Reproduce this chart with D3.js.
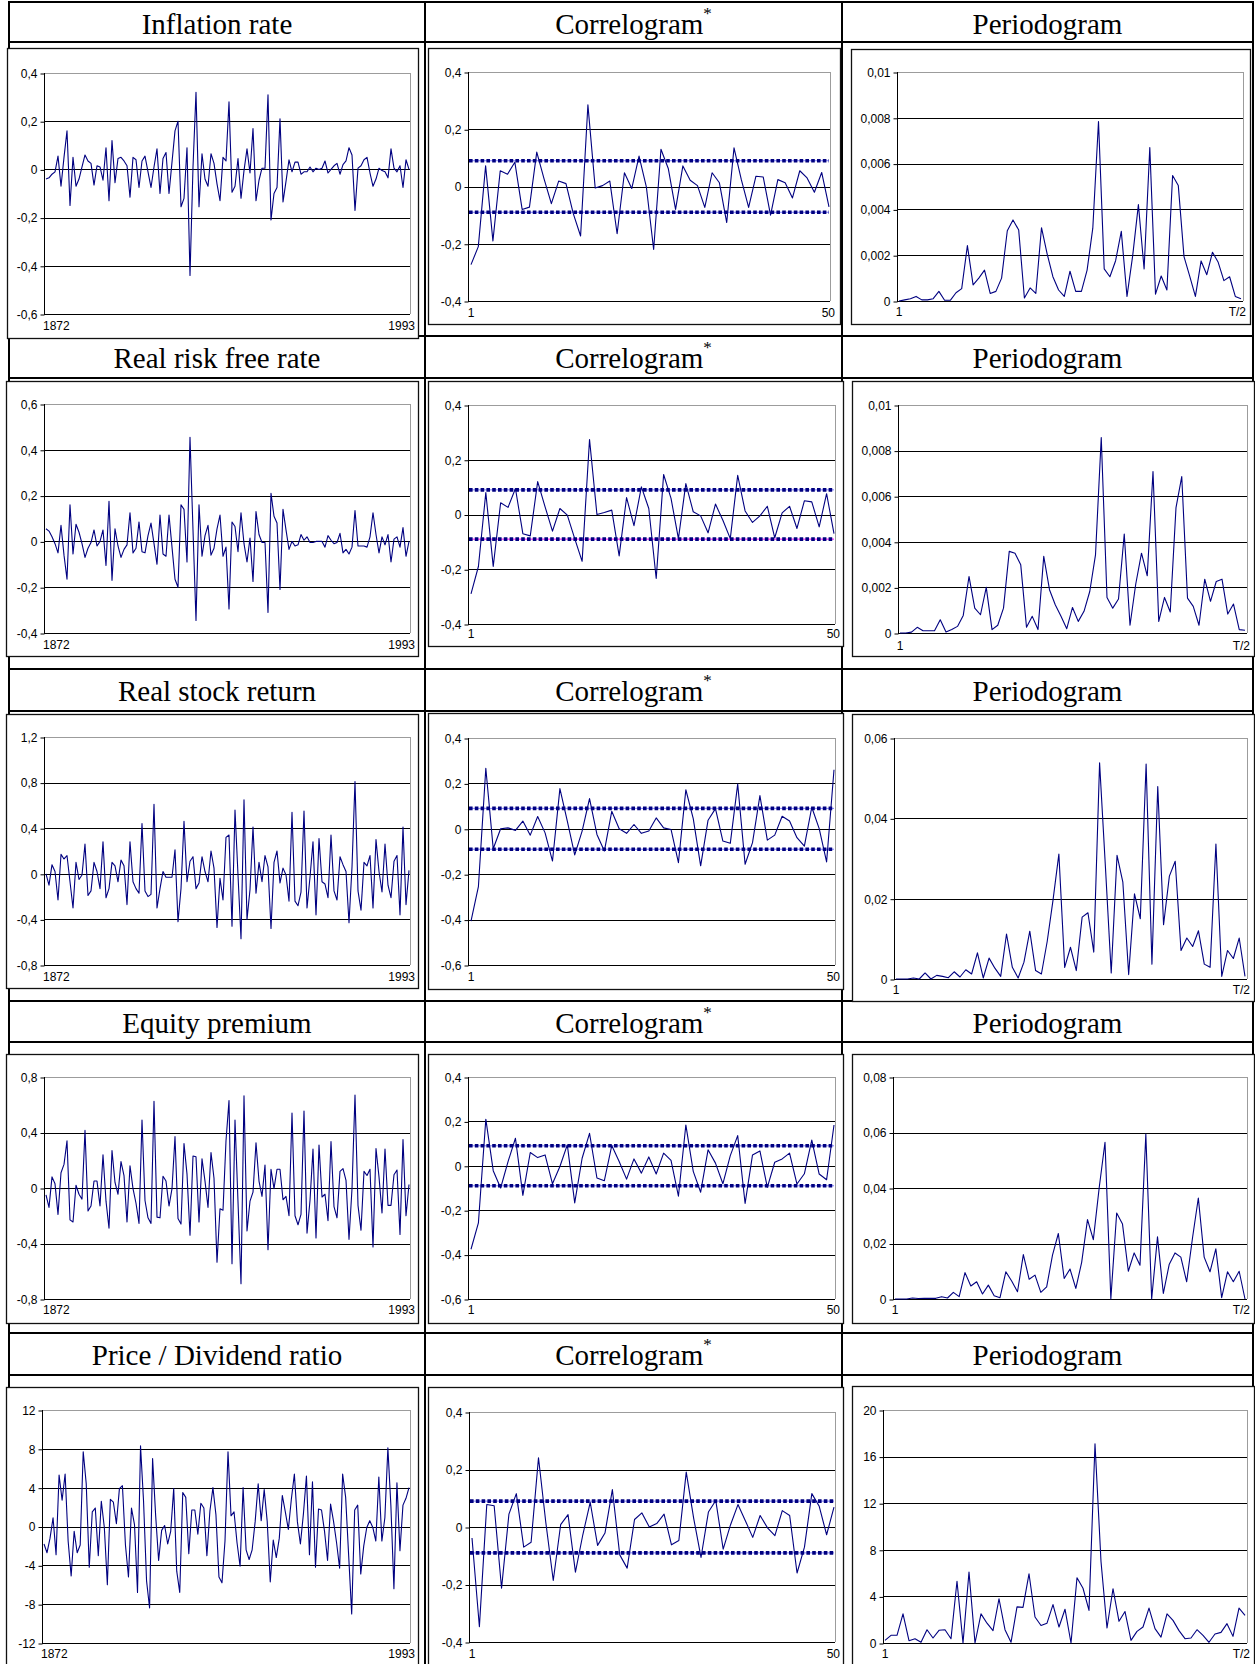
<!DOCTYPE html>
<html>
<head>
<meta charset="utf-8">
<script src="https://cdn.jsdelivr.net/npm/d3@7"></script>
<style>
  body { margin: 0; background: #fff; }
  svg { display: block; }
</style>
</head>
<body>
<svg id="chart" width="1255" height="1664"></svg>
<script>
// ---------- data ----------
const years = d3.range(1872, 1994); // 1872 .. 1993

const seriesTitles = ["Inflation rate", "Real risk free rate", "Real stock return", "Equity premium", "Price / Dividend ratio"];
const columnTitles = ["Correlogram", "Periodogram"];

const inflationRate = [
  -0.04, -0.035, -0.02, -0.01, 0.055, -0.07, 0.05, 0.16, -0.15, 0.05,
  -0.07, -0.04, 0.01, 0.06, 0.035, 0.025, -0.065, 0.015, 0.01, -0.045,
  0.09, -0.13, 0.12, -0.055, 0.045, 0.05, 0.035, 0.015, -0.115, 0.05,
  0.04, -0.075, 0.035, 0.055, -0.01, -0.075, 0.01, 0.085, -0.1, 0.045,
  0.07, -0.1, 0.03, 0.16, 0.2, -0.155, -0.12, 0.09, -0.44, 0.01,
  0.32, -0.155, 0.065, -0.04, -0.07, 0.065, 0.025, -0.06, -0.13, 0.05,
  0.035, 0.28, -0.095, -0.07, 0.045, -0.12, -0.005, 0.085, -0.015, 0.17,
  -0.13, -0.045, 0.005, 0.005, 0.31, -0.21, -0.1, -0.075, 0.21, -0.135,
  -0.05, 0.04, -0.01, 0.03, 0.03, -0.02, -0.01, -0.01, 0.01, -0.01,
  0.005, 0.0, 0.005, 0.035, -0.015, 0.0, 0.015, 0.025, -0.02, 0.02,
  0.035, 0.09, 0.06, -0.17, 0.005, 0.015, 0.04, 0.05, -0.015, -0.07,
  -0.04, 0.005, -0.005, -0.01, -0.035, 0.085, 0.005, -0.01, 0.015, -0.075,
  0.04, 0.0
];

const realRiskFreeRate = [
  0.055, 0.045, 0.02, -0.01, -0.05, 0.07, -0.06, -0.165, 0.16, -0.055,
  0.075, 0.04, -0.01, -0.07, -0.03, -0.005, 0.05, -0.02, 0.0, 0.05,
  -0.105, 0.175, -0.17, 0.055, -0.02, -0.07, -0.035, -0.015, 0.125, -0.05,
  -0.03, 0.085, -0.045, -0.05, 0.025, 0.08, -0.01, -0.1, 0.115, -0.055,
  -0.065, 0.115, -0.025, -0.165, -0.2, 0.16, 0.14, -0.09, 0.455, 0.05,
  -0.345, 0.16, -0.065, 0.025, 0.07, -0.06, -0.03, 0.055, 0.115, -0.065,
  -0.025, -0.295, 0.085, 0.065, -0.045, 0.125, -0.01, -0.09, 0.015, -0.175,
  0.13, 0.03, -0.005, -0.005, -0.31, 0.21, 0.11, 0.08, -0.21, 0.14,
  0.05, -0.035, 0.0, -0.02, -0.015, 0.03, 0.005, 0.02, -0.005, -0.005,
  0.0, 0.0, 0.0, -0.025, 0.025, 0.005, -0.01, -0.005, 0.035, -0.05,
  -0.035, -0.055, -0.025, 0.135, -0.02, -0.02, -0.02, -0.025, 0.02, 0.125,
  0.03, -0.05, 0.02, -0.015, 0.03, -0.09, 0.01, 0.02, -0.025, 0.06,
  -0.065, 0.0
];

const realStockReturn = [
  0.0, -0.1, 0.08, 0.02, -0.23, 0.17, 0.13, 0.16, -0.07, -0.3,
  0.1, -0.05, -0.01, 0.26, -0.19, -0.15, 0.1, 0.02, -0.13, 0.28,
  -0.21, -0.13, 0.1, 0.07, -0.07, 0.12, 0.07, -0.27, 0.28, -0.07,
  -0.13, -0.17, 0.44, -0.15, -0.2, -0.18, 0.61, -0.3, -0.13, 0.02,
  -0.03, -0.03, -0.03, 0.21, -0.42, -0.13, 0.46, -0.07, 0.11, 0.15,
  -0.13, -0.08, 0.15, 0.02, -0.07, 0.2, 0.05, -0.47, -0.04, -0.23,
  0.32, 0.34, -0.46, 0.56, -0.01, -0.57, 0.65, -0.4, -0.14, 0.41,
  -0.17, 0.1, -0.07, 0.16, 0.06, -0.48, 0.1, 0.2, -0.08, 0.05,
  -0.01, -0.24, 0.54, -0.24, -0.28, -0.16, 0.55, -0.3, -0.03, 0.28,
  -0.36, 0.31, -0.07, -0.09, -0.21, 0.34, -0.15, -0.23, 0.15, 0.08,
  0.02, -0.43, 0.06, 0.81, -0.15, -0.32, 0.1, 0.07, 0.16, -0.3,
  0.3, 0.02, -0.16, 0.26, -0.1, -0.21, 0.11, 0.16, -0.36, 0.41,
  -0.27, 0.03
];

const equityPremium = [
  -0.05, -0.14, 0.08, 0.03, -0.19, 0.11, 0.17, 0.34, -0.23, -0.245,
  0.02, -0.045, -0.08, 0.415, -0.165, -0.13, 0.05, 0.05, -0.13, 0.24,
  -0.095, -0.29, 0.27, 0.04, -0.045, 0.19, 0.09, -0.245, 0.16, -0.005,
  -0.11, -0.255, 0.49, -0.09, -0.215, -0.255, 0.625, -0.21, -0.215, 0.085,
  0.05, -0.13, -0.005, 0.37, -0.22, -0.26, 0.32, 0.1, -0.34, 0.23,
  0.225, -0.245, 0.21, 0.05, -0.14, 0.255, 0.07, -0.535, -0.15, -0.16,
  0.34, 0.63, -0.545, 0.49, -0.1, -0.69, 0.665, -0.31, -0.095, -0.03,
  0.325, 0.05, -0.06, 0.165, -0.445, 0.135, -0.005, 0.135, 0.135, -0.085,
  -0.06, -0.2, 0.54, -0.2, -0.265, -0.19, 0.555, -0.325, -0.09, 0.28,
  -0.36, 0.31, -0.065, -0.045, -0.235, 0.335, -0.135, -0.215, 0.12, 0.14,
  0.055, -0.37, -0.005, 0.67, -0.125, -0.305, 0.12, 0.09, 0.135, -0.425,
  0.285, 0.08, -0.18, 0.28, -0.125, -0.125, 0.095, 0.13, -0.335, 0.35,
  -0.2, 0.025
];

const priceDividendRatio = [
  -1.8, -2.7, -1.2, 0.9, -2.9, 5.3, 2.7, 5.4, -1.5, -5.1,
  -0.5, -2.7, -1.9, 7.7, 4.4, -4.2, 1.5, 1.9, -3.0, 2.6,
  -0.1, -6.0, 2.8, 2.5, 0.3, 3.9, 4.2, -1.9, -5.2, 1.9,
  0.2, -6.8, 8.3, 2.6, -5.6, -8.4, 7.0, 1.2, -3.5, -0.4,
  0.1, -1.8, -0.5, 3.9, -4.6, -6.8, 3.5, 3.0, -2.8, 1.7,
  1.7, -0.8, 2.4, 1.9, -3.0, 1.6, 4.0, 1.2, -5.2, -5.8,
  -1.5, 7.7, 1.1, 1.5, -1.7, -4.1, 4.0, -2.4, -3.4, -2.4,
  0.5, 4.4, 0.6, 3.8, 0.5, -5.7, -1.4, -3.2, -1.2, 3.2,
  1.5, -0.3, 2.8, 5.4, 0.5, -1.8, 1.3, 5.2, -2.9, 4.6,
  -4.2, 1.8, 1.7, -0.5, -3.5, 2.3, 0.5, -1.7, -4.3, 5.4,
  3.0, -3.0, -9.0, 1.7, 2.2, -4.9, -2.0, -0.1, 0.6, -0.1,
  -1.5, 5.1, -1.5, 0.9, 8.1, 2.1, -6.4, 4.5, -2.5, 2.2,
  2.9, 4.0
];

// autocorrelations, lags 1..50
const lags = d3.range(1, 51);
const acfInflation = [
  -0.273, -0.21, 0.072, -0.19, 0.055, 0.043, 0.085, -0.08, -0.072, 0.12,
  0.027, -0.06, 0.019, 0.01, -0.095, -0.173, 0.285, -0.005, 0.003, 0.019,
  -0.165, 0.048, -0.007, 0.106, -0.001, -0.22, 0.13, 0.063, -0.08, 0.072,
  0.022, 0.003, -0.073, 0.048, 0.013, -0.126, 0.135, 0.024, -0.073, 0.036,
  0.033, -0.1, 0.024, 0.013, -0.04, 0.055, 0.03, -0.02, 0.049, -0.071
];
const acfRiskFree = [
  -0.29, -0.19, 0.08, -0.19, 0.043, 0.026, 0.095, -0.07, -0.078, 0.12,
  0.028, -0.061, 0.022, -0.002, -0.088, -0.171, 0.274, 0.0, 0.007, 0.016,
  -0.151, 0.062, -0.041, 0.101, 0.022, -0.234, 0.146, 0.059, -0.088, 0.113,
  0.01, -0.005, -0.067, 0.038, -0.021, -0.088, 0.143, 0.013, -0.029, -0.005,
  0.03, -0.085, 0.006, 0.03, -0.051, 0.05, 0.046, -0.045, 0.076, -0.07
];
const acfStockReturn = [
  -0.407, -0.255, 0.267, -0.088, 0.0, 0.004, -0.007, 0.034, -0.028, 0.054,
  -0.018, -0.142, 0.177, 0.034, -0.115, -0.01, 0.133, -0.025, -0.098, 0.077,
  0.0, -0.02, 0.019, -0.02, -0.01, 0.048, 0.004, -0.003, -0.149, 0.172,
  0.045, -0.163, 0.038, 0.089, -0.054, -0.064, 0.197, -0.156, -0.061, 0.146,
  -0.05, -0.028, 0.055, 0.034, -0.039, -0.076, 0.095, 0.001, -0.146, 0.26
];
const acfEquityPremium = [
  -0.376, -0.257, 0.21, -0.022, -0.1, 0.019, 0.124, -0.133, 0.06, 0.037,
  0.049, -0.081, -0.003, 0.094, -0.167, 0.034, 0.146, -0.055, -0.067, 0.091,
  0.019, -0.06, 0.031, -0.033, 0.04, -0.037, 0.057, 0.024, -0.137, 0.184,
  -0.025, -0.119, 0.072, 0.012, -0.081, 0.046, 0.136, -0.17, 0.049, 0.067,
  -0.097, 0.016, 0.031, 0.057, -0.082, -0.036, 0.116, -0.037, -0.063, 0.184
];
const acfPriceDividend = [
  -0.038, -0.347, 0.078, 0.074, -0.213, 0.045, 0.116, -0.07, -0.053, 0.241,
  0.014, -0.186, 0.008, 0.043, -0.157, -0.027, 0.086, -0.064, -0.021, 0.13,
  -0.097, -0.143, 0.026, 0.049, 0.0, 0.012, 0.045, -0.062, -0.047, 0.191,
  0.031, -0.106, 0.052, 0.092, -0.077, 0.008, 0.078, 0.022, -0.036, 0.04,
  -0.003, -0.03, 0.057, 0.04, -0.16, -0.07, 0.116, 0.072, -0.027, 0.069
];
const acfBand = 0.09; // significance band drawn at +/- this level

// periodogram ordinates, frequencies 1 .. T/2
const freqs = d3.range(0, 61);
const pgInflation = [
  0.0, 0.00005, 0.0001, 0.0002, 0.00005, 0.00005, 0.0001, 0.00042, 0.00003, 0.00003,
  0.00036, 0.00054, 0.00242, 0.0007, 0.001, 0.00135, 0.00033, 0.00042, 0.001, 0.00307,
  0.00354, 0.0031, 0.00013, 0.00057, 0.00033, 0.0032, 0.00205, 0.00106, 0.00048, 0.0002,
  0.0013, 0.00042, 0.00042, 0.00135, 0.00318, 0.00784, 0.0014, 0.00106, 0.00176, 0.00304,
  0.0002, 0.00198, 0.00421, 0.0014, 0.0067, 0.0003, 0.00109, 0.00048, 0.00548, 0.00504,
  0.00194, 0.00109, 0.0002, 0.00175, 0.00115, 0.00213, 0.00169, 0.00089, 0.00106, 0.0002,
  0.0001
];
const pgRiskFree = [
  0.0, 0.0, 0.00004, 0.00025, 0.0001, 0.0001, 0.0001, 0.00058, 0.00004, 0.00015,
  0.00029, 0.00077, 0.00248, 0.00109, 0.0008, 0.002, 0.00015, 0.00034, 0.00109, 0.00358,
  0.0035, 0.00299, 0.00025, 0.00073, 0.00015, 0.00336, 0.0019, 0.00124, 0.00073, 0.00019,
  0.00112, 0.00051, 0.00095, 0.00182, 0.00343, 0.00857, 0.00156, 0.00109, 0.00149, 0.00434,
  0.00034, 0.00215, 0.0035, 0.00251, 0.00708, 0.00051, 0.00156, 0.00092, 0.0055, 0.00686,
  0.00153, 0.00117, 0.00034, 0.00236, 0.00139, 0.00226, 0.00236, 0.00083, 0.00127, 0.00015,
  0.00012
];
const pgStockReturn = [
  0.0, 0.0, 0.0, 0.00025, 0.0, 0.0015, 0.0, 0.0009, 0.00066, 0.00033,
  0.0018, 0.0005, 0.0023, 0.00125, 0.0065, 0.00025, 0.0052, 0.0027, 0.00066, 0.0112,
  0.0029, 0.00025, 0.0042, 0.0119, 0.0021, 0.00125, 0.0094, 0.0197, 0.0311, 0.0029,
  0.0079, 0.0021, 0.0154, 0.0165, 0.0067, 0.0538, 0.028, 0.0015, 0.0308, 0.0241,
  0.0011, 0.0212, 0.015, 0.0535, 0.0037, 0.0479, 0.0135, 0.0256, 0.0293, 0.0071,
  0.0102, 0.0081, 0.012, 0.0037, 0.0029, 0.0336, 0.00066, 0.0071, 0.0051, 0.0102,
  0.00066
];
const pgEquityPremium = [
  0.0, 0.0, 0.0, 0.00036, 0.0002, 0.00024, 0.00024, 0.00024, 0.00084, 0.00036,
  0.0024, 0.00084, 0.0095, 0.0047, 0.0062, 0.0018, 0.005, 0.0012, 0.00048, 0.0098,
  0.0065, 0.0026, 0.016, 0.0071, 0.0086, 0.0024, 0.0044, 0.0158, 0.0236, 0.0074,
  0.0108, 0.0038, 0.0132, 0.0286, 0.0214, 0.04, 0.0565, 0.0, 0.031, 0.027,
  0.01, 0.0166, 0.0122, 0.0594, 0.0, 0.0224, 0.002, 0.0124, 0.0166, 0.0151,
  0.0062, 0.022, 0.0364, 0.0151, 0.0098, 0.0181, 0.0005, 0.0098, 0.0062, 0.01,
  0.0
];
const pgPriceDividend = [
  0.23, 0.66, 0.66, 2.5, 0.2, 0.37, 0.06, 1.14, 0.43, 1.09,
  1.14, 0.37, 5.3, 0.0, 6.1, 0.0, 2.5, 1.7, 1.06, 3.8,
  1.14, 0.06, 3.1, 3.06, 5.94, 2.23, 1.5, 1.7, 3.3, 1.37,
  2.9, 0.0, 5.6, 4.7, 2.8, 17.1, 7.0, 1.29, 4.66, 1.86,
  2.7, 0.23, 1.0, 1.37, 3.0, 1.23, 0.51, 2.5, 1.94, 1.06,
  0.37, 0.43, 1.14, 0.66, 0.06, 0.77, 0.91, 1.66, 0.57, 3.0,
  2.37
];

// value-axis tick labels for each panel
const tsTicks = [
  [-0.6, -0.4, -0.2, 0, 0.2, 0.4],
  [-0.4, -0.2, 0, 0.2, 0.4, 0.6],
  [-0.8, -0.4, 0, 0.4, 0.8, 1.2],
  [-0.8, -0.4, 0, 0.4, 0.8],
  [-12, -8, -4, 0, 4, 8, 12]
];
const acfTicks = [
  [-0.4, -0.2, 0, 0.2, 0.4],
  [-0.4, -0.2, 0, 0.2, 0.4],
  [-0.6, -0.4, -0.2, 0, 0.2, 0.4],
  [-0.6, -0.4, -0.2, 0, 0.2, 0.4],
  [-0.4, -0.2, 0, 0.2, 0.4]
];
const pgTicks = [
  [0, 0.002, 0.004, 0.006, 0.008, 0.01],
  [0, 0.002, 0.004, 0.006, 0.008, 0.01],
  [0, 0.02, 0.04, 0.06],
  [0, 0.02, 0.04, 0.06, 0.08],
  [0, 4, 8, 12, 16, 20]
];
const tsEndLabels = ["1872", "1993"];
const acfEndLabels = ["1", "50"];
const pgEndLabels = ["1", "T/2"];

const tsSeries = [inflationRate, realRiskFreeRate, realStockReturn, equityPremium, priceDividendRatio];
const acfSeries = [acfInflation, acfRiskFree, acfStockReturn, acfEquityPremium, acfPriceDividend];
const pgSeries = [pgInflation, pgRiskFree, pgStockReturn, pgEquityPremium, pgPriceDividend];

// ---------- layout ----------
const tableCols = [9, 425, 842, 1253];
const headerTops = [2, 336, 669, 1001, 1333];
const headerBottoms = [42, 378, 711, 1042, 1375];

const layout = [
  { ts:  { frame: [7, 48, 418, 338],   plot: [44, 73, 410, 314],   lab: 330 },
    acf: { frame: [428, 48, 840, 324], plot: [468, 72, 830, 301],  lab: 317 },
    pg:  { frame: [851, 49, 1250, 324], plot: [897, 72, 1243, 301], lab: 316 } },
  { ts:  { frame: [6, 381, 418, 656],  plot: [44, 404, 410, 633],  lab: 649 },
    acf: { frame: [428, 381, 843, 646], plot: [468, 405, 835, 624], lab: 638 },
    pg:  { frame: [852, 381, 1254, 656], plot: [898, 405, 1247, 633], lab: 650 } },
  { ts:  { frame: [6, 714, 418, 988],  plot: [44, 737, 410, 965],  lab: 981 },
    acf: { frame: [428, 713, 843, 989], plot: [468, 738, 835, 965], lab: 981 },
    pg:  { frame: [852, 714, 1254, 1001], plot: [894, 738, 1247, 979], lab: 994 } },
  { ts:  { frame: [6, 1054, 418, 1323], plot: [44, 1077, 410, 1299], lab: 1314 },
    acf: { frame: [428, 1054, 843, 1323], plot: [468, 1077, 835, 1299], lab: 1314 },
    pg:  { frame: [852, 1054, 1254, 1323], plot: [893, 1077, 1247, 1299], lab: 1314 } },
  { ts:  { frame: [6, 1387, 418, 1690], plot: [42, 1410, 410, 1643], lab: 1658 },
    acf: { frame: [428, 1387, 843, 1690], plot: [469, 1412, 835, 1642], lab: 1658 },
    pg:  { frame: [852, 1386, 1254, 1690], plot: [883, 1410, 1247, 1643], lab: 1658 } }
];

const NAVY = "#000080";
const LABEL_FONT = "'Liberation Sans', Arial, sans-serif";
const TITLE_FONT = "'Liberation Serif', 'Times New Roman', serif";

const fmt = d3.formatLocale({
  decimal: ",", thousands: ".", grouping: [3], currency: ["", ""], minus: "-"
}).format("~g");

const svg = d3.select("#chart");

// ---------- table grid ----------
const grid = svg.append("g").attr("stroke", "#000").attr("stroke-width", 2);
headerTops.concat(headerBottoms).forEach(yv => {
  grid.append("line").attr("x1", tableCols[0] - 1).attr("x2", tableCols[3] + 1)
    .attr("y1", yv).attr("y2", yv);
});
tableCols.forEach(xv => {
  grid.append("line").attr("x1", xv).attr("x2", xv).attr("y1", 1).attr("y2", 1664);
});

// ---------- header titles ----------
const colCenters = d3.range(3).map(i => (tableCols[i] + tableCols[i + 1]) / 2);
headerTops.forEach((top, r) => {
  const base = top + 32;
  const t = svg.append("g").attr("font-family", TITLE_FONT).attr("font-size", 29).attr("fill", "#000");
  t.append("text").attr("x", colCenters[0]).attr("y", base).attr("text-anchor", "middle").text(seriesTitles[r]);
  const c = t.append("text").attr("x", colCenters[1]).attr("y", base).attr("text-anchor", "middle");
  c.append("tspan").text(columnTitles[0]);
  c.append("tspan").attr("font-size", 17).attr("dy", -15).text("*");
  t.append("text").attr("x", colCenters[2]).attr("y", base).attr("text-anchor", "middle").text(columnTitles[1]);
});

// ---------- one small line chart ----------
function drawPanel(box, ticks, xDomain, xValues, values, endLabels, opts) {
  const [fx0, fy0, fx1, fy1] = box.frame;
  const [px0, py0, px1, py1] = box.plot;

  svg.append("rect")
    .attr("x", fx0 + 0.5).attr("y", fy0 + 0.5)
    .attr("width", fx1 - fx0).attr("height", fy1 - fy0)
    .attr("fill", "#fff").attr("stroke", "#111").attr("stroke-width", 1.3);

  const g = svg.append("g");
  const y = d3.scaleLinear().domain([ticks[0], ticks[ticks.length - 1]]).range([py1, py0]);
  const x = d3.scaleLinear().domain(xDomain).range([px0 + opts.padL, px1 - opts.padR]);

  // horizontal grid lines (topmost one is the light plot border)
  g.selectAll("line.grid").data(ticks).join("line")
    .attr("class", "grid")
    .attr("x1", px0).attr("x2", px1)
    .attr("y1", d => Math.round(y(d)) + 0.5).attr("y2", d => Math.round(y(d)) + 0.5)
    .attr("stroke", (d, i) => i === ticks.length - 1 ? "#9c9c9c" : "#000")
    .attr("stroke-width", 1);
  // right plot border
  g.append("line")
    .attr("x1", px1 + 0.5).attr("x2", px1 + 0.5)
    .attr("y1", py0).attr("y2", py1)
    .attr("stroke", "#9c9c9c");

  // value axis with outward ticks and labels
  const axis = d3.axisLeft(y).tickValues(ticks).tickFormat(fmt).tickSize(4).tickPadding(3);
  const ag = g.append("g").attr("transform", `translate(${px0 + 0.5},0.5)`).call(axis);
  ag.select(".domain").attr("stroke", "#000").attr("d", `M0,${py1 - 0.5}V${py0 - 0.5}`);
  ag.selectAll(".tick line").attr("stroke", "#000");
  ag.selectAll(".tick text")
    .attr("font-family", LABEL_FONT).attr("font-size", 12).attr("fill", "#000");
  ag.attr("font-size", null).attr("font-family", null);

  // significance bands
  if (opts.band) {
    [opts.band, -opts.band].forEach((b, i) => {
      const yy = y(b);
      g.append("line").attr("x1", px0 + 1).attr("x2", px1 - 1).attr("y1", yy).attr("y2", yy)
        .attr("stroke", opts.bandUnder[i]).attr("stroke-width", 1);
      g.append("line").attr("x1", px0 + 1).attr("x2", px1 - 1).attr("y1", yy).attr("y2", yy)
        .attr("stroke", NAVY).attr("stroke-width", 3.6).attr("stroke-dasharray", "3.6,2.2");
    });
  }

  // the series
  const line = d3.line().x((d, i) => x(xValues[i])).y(d => y(d));
  g.append("path").datum(values)
    .attr("d", line)
    .attr("fill", "none").attr("stroke", NAVY).attr("stroke-width", 1.1)
    .attr("stroke-linejoin", "round");

  // category end labels
  const lt = g.append("g").attr("font-family", LABEL_FONT).attr("font-size", 12).attr("fill", "#000");
  lt.append("text").attr("x", x(xDomain[0]) + opts.firstDx).attr("y", box.lab)
    .attr("text-anchor", opts.firstAnchor).text(endLabels[0]);
  lt.append("text").attr("x", x(xDomain[1]) + opts.lastDx).attr("y", box.lab)
    .attr("text-anchor", "end").text(endLabels[1]);
}

layout.forEach((row, r) => {
  drawPanel(row.ts, tsTicks[r], [years[0], years[years.length - 1]], years, tsSeries[r], tsEndLabels,
    { padL: 2, padR: 1, firstDx: -3, firstAnchor: "start", lastDx: 6 });
  drawPanel(row.acf, acfTicks[r], [lags[0], lags[lags.length - 1]], lags, acfSeries[r], acfEndLabels,
    { padL: 3, padR: 1, firstDx: 0, firstAnchor: "middle", lastDx: 6, band: acfBand,
      bandUnder: r === 1 ? ["#7f7fff", "#ff00ff"] : ["#7f7fff", "#7f7fff"] });
  drawPanel(row.pg, pgTicks[r], [freqs[0], freqs[freqs.length - 1]], freqs, pgSeries[r], pgEndLabels,
    { padL: 2, padR: 2, firstDx: 0, firstAnchor: "middle", lastDx: 5 });
});
</script>
</body>
</html>
